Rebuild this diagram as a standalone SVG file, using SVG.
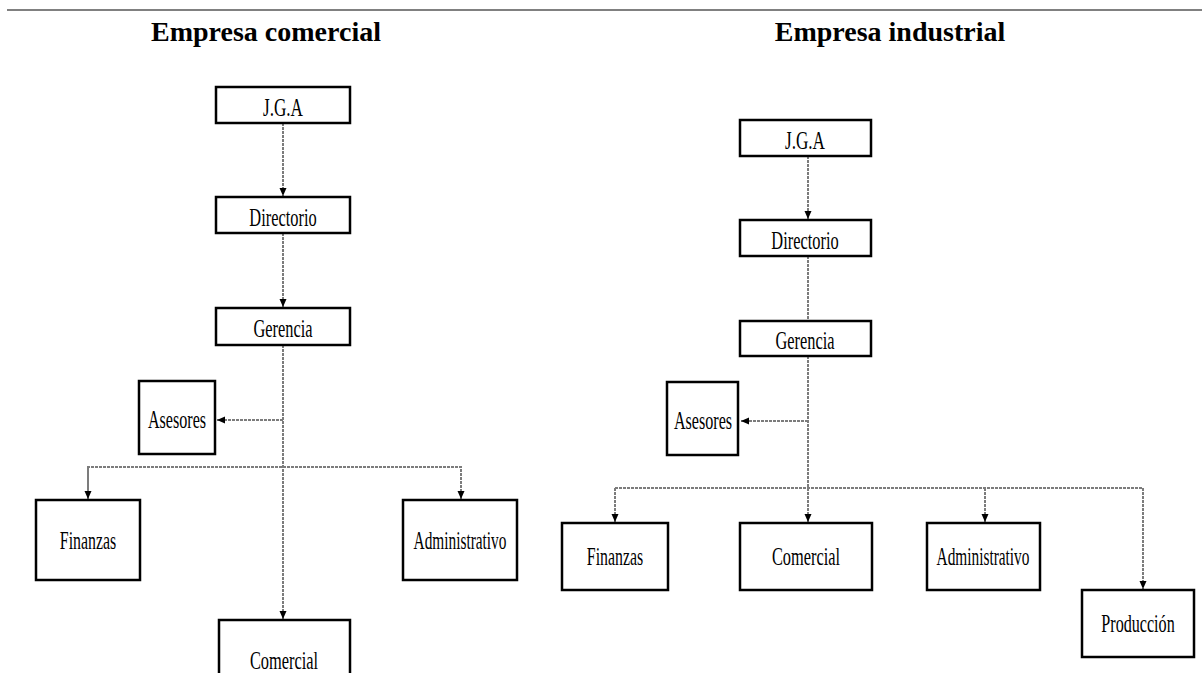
<svg xmlns="http://www.w3.org/2000/svg" width="1202" height="673" viewBox="0 0 1202 673">
<style>
.box{fill:#fff;stroke:#000;stroke-width:2.5}
.lbl{font-family:"Liberation Serif","Times New Roman",serif;font-size:26px;fill:#000;text-anchor:middle}
.ttl{font-family:"Liberation Serif","Times New Roman",serif;font-size:28px;font-weight:bold;fill:#000;text-anchor:middle}
.con{fill:none;stroke:#7c7c7c;stroke-width:2;stroke-dasharray:3 1}
</style>
<defs>
<marker id="ah" markerUnits="userSpaceOnUse" markerWidth="10" markerHeight="10" refX="8" refY="4" orient="auto">
<path d="M0,0.5 L8,4 L0,7.5 Z" fill="#000"/>
</marker>
</defs>
<line x1="7" y1="10" x2="1202" y2="10" stroke="#808080" stroke-width="2"/>
<text class="ttl" x="266" y="41">Empresa comercial</text>
<text class="ttl" x="890" y="41">Empresa industrial</text>
<g id="connectors">
<path class="con" d="M283,123 V196" marker-end="url(#ah)"/>
<path class="con" d="M283,233 V307" marker-end="url(#ah)"/>
<path class="con" d="M283,345 V619" marker-end="url(#ah)"/>
<path class="con" d="M283,420 H217" marker-end="url(#ah)"/>
<path class="con" d="M88,500 V467 H461 V499" marker-end="url(#ah)"/>
<path class="con" d="M88,467 V499" marker-end="url(#ah)"/>
<path class="con" d="M808,156 V219" marker-end="url(#ah)"/>
<path class="con" d="M808,256 V321"/>
<path class="con" d="M808,356 V522" marker-end="url(#ah)"/>
<path class="con" d="M808,421 H741" marker-end="url(#ah)"/>
<path class="con" d="M615,488 H1143 V589" marker-end="url(#ah)"/>
<path class="con" d="M615,488 V522" marker-end="url(#ah)"/>
<path class="con" d="M985,488 V522" marker-end="url(#ah)"/>
</g>
<g id="l-jga"><rect class="box" x="216" y="87" width="134" height="36"/><text class="lbl" transform="translate(283,116) scale(0.66,1)">J.G.A</text></g>
<g id="l-directorio"><rect class="box" x="216" y="197" width="134" height="36"/><text class="lbl" transform="translate(283,226) scale(0.63,1)">Directorio</text></g>
<g id="l-gerencia"><rect class="box" x="216" y="308" width="134" height="37"/><text class="lbl" transform="translate(283,337) scale(0.63,1)">Gerencia</text></g>
<g id="l-asesores"><rect class="box" x="139" y="381" width="76" height="73"/><text class="lbl" transform="translate(177,428) scale(0.62,1)">Asesores</text></g>
<g id="l-finanzas"><rect class="box" x="36" y="500" width="104" height="80"/><text class="lbl" transform="translate(88,549) scale(0.61,1)">Finanzas</text></g>
<g id="l-administrativo"><rect class="box" x="403" y="500" width="114" height="80"/><text class="lbl" transform="translate(460,549) scale(0.59,1)">Administrativo</text></g>
<g id="l-comercial"><rect class="box" x="219" y="620" width="131" height="60"/><text class="lbl" transform="translate(284,669) scale(0.63,1)">Comercial</text></g>
<g id="r-jga"><rect class="box" x="740" y="120" width="131" height="36"/><text class="lbl" transform="translate(805,149) scale(0.66,1)">J.G.A</text></g>
<g id="r-directorio"><rect class="box" x="740" y="220" width="131" height="36"/><text class="lbl" transform="translate(805,249) scale(0.63,1)">Directorio</text></g>
<g id="r-gerencia"><rect class="box" x="740" y="321" width="131" height="35"/><text class="lbl" transform="translate(805,349) scale(0.63,1)">Gerencia</text></g>
<g id="r-asesores"><rect class="box" x="667" y="382" width="71" height="73"/><text class="lbl" transform="translate(703,429) scale(0.62,1)">Asesores</text></g>
<g id="r-finanzas"><rect class="box" x="562" y="523" width="106" height="67"/><text class="lbl" transform="translate(615,565) scale(0.61,1)">Finanzas</text></g>
<g id="r-comercial"><rect class="box" x="740" y="523" width="132" height="67"/><text class="lbl" transform="translate(806,565) scale(0.63,1)">Comercial</text></g>
<g id="r-administrativo"><rect class="box" x="927" y="523" width="113" height="67"/><text class="lbl" transform="translate(983,565) scale(0.59,1)">Administrativo</text></g>
<g id="r-produccion"><rect class="box" x="1082" y="590" width="112" height="67"/><text class="lbl" transform="translate(1138,632) scale(0.62,1)">Producción</text></g>
</svg>
